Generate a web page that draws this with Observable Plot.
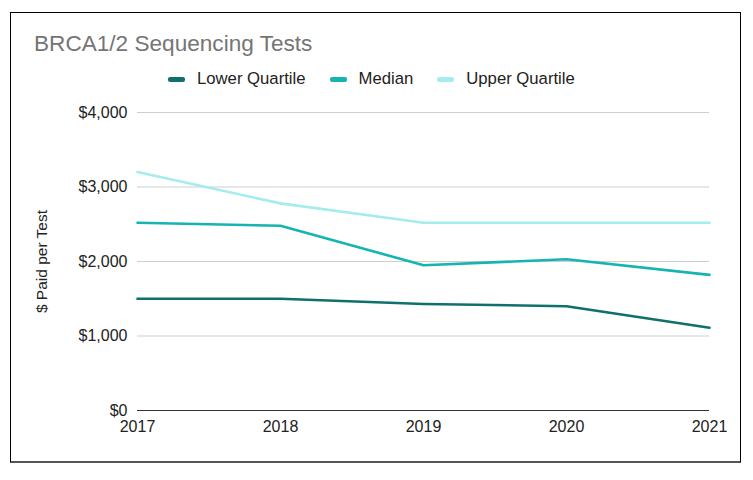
<!DOCTYPE html>
<html>
<head>
<meta charset="utf-8">
<script src="https://cdn.jsdelivr.net/npm/d3@7"></script>
<script src="https://cdn.jsdelivr.net/npm/@observablehq/plot@0.6"></script>
<style>
  html, body { margin: 0; padding: 0; background: #fff; }
  body { width: 753px; height: 480px; position: relative; overflow: hidden; font-family: "Liberation Sans", Arial, sans-serif; }
  #frame { position: absolute; left: 10px; top: 12px; width: 729px; height: 448px; border: 1px solid #000; border-bottom: 2px solid #555; box-sizing: content-box; }
  #title { position: absolute; left: 34px; top: 31px; font-size: 22.6px; color: #757575; white-space: nowrap; }
  #legend { position: absolute; left: 168px; top: 69px; display: flex; align-items: center; font-size: 16.7px; color: #222; white-space: nowrap; }
  .item { display: flex; align-items: center; margin-right: 24px; }
  .sw { width: 17px; height: 5px; border-radius: 2px; margin-right: 12px; }
  #chart { position: absolute; left: 0; top: 95px; }
</style>
</head>
<body>
<div id="frame"></div>
<div id="title">BRCA1/2 Sequencing Tests</div>
<div id="legend"></div>
<div id="chart"></div>
<script>
const years = [2017, 2018, 2019, 2020, 2021];
const seriesNames = ["Lower Quartile", "Median", "Upper Quartile"];
const seriesColors = ["#10706c", "#14b4b3", "#a6ecec"];
const lowerQuartile = [1500, 1500, 1430, 1400, 1110];
const median = [2520, 2480, 1950, 2030, 1820];
const upperQuartile = [3200, 2780, 2520, 2520, 2520];
const yTicks = [0, 1000, 2000, 3000, 4000];

const valuesBySeries = [lowerQuartile, median, upperQuartile];
const data = [];
seriesNames.forEach((s, i) => {
  years.forEach((yr, j) => data.push({series: s, year: yr, value: valuesBySeries[i][j]}));
});

// legend
const legend = document.getElementById("legend");
seriesNames.forEach((s, i) => {
  const it = document.createElement("div");
  it.className = "item";
  const sw = document.createElement("div");
  sw.className = "sw";
  sw.style.background = seriesColors[i];
  const t = document.createElement("span");
  t.textContent = s;
  it.appendChild(sw); it.appendChild(t);
  legend.appendChild(it);
});

const fmt = d => "$" + d3.format(",")(d);

const chart = Plot.plot({
  width: 753,
  height: 355,
  marginTop: 17,
  marginBottom: 40,
  marginLeft: 137,
  marginRight: 44,
  style: { fontFamily: "'Liberation Sans', Arial, sans-serif", color: "#222", background: "transparent" },
  x: { type: "point", domain: years, padding: 0 },
  y: { domain: [0, 4000] },
  color: { domain: seriesNames, range: seriesColors },
  marks: [
    Plot.gridY(yTicks.filter(d => d > 0), { stroke: "#cfcfcf", strokeOpacity: 1, strokeWidth: 1 }),
    Plot.ruleY([0], { stroke: "#333", strokeWidth: 1 }),
    Plot.axisY({ ticks: yTicks, tickFormat: fmt, tickSize: 0, tickPadding: 10, fontSize: 16, label: null }),
    Plot.text(["$ Paid per Test"], { frameAnchor: "left", textAnchor: "middle", dx: -95, rotate: -90, fontSize: 15.5, fill: "#222" }),
    Plot.axisX({ ticks: years, tickFormat: d => String(d), tickSize: 0, tickPadding: 10, fontSize: 16, label: null }),
    Plot.line(data, { x: "year", y: "value", z: "series", stroke: "series", strokeWidth: 2.6 })
  ]
});
document.getElementById("chart").appendChild(chart);
</script>
</body>
</html>
